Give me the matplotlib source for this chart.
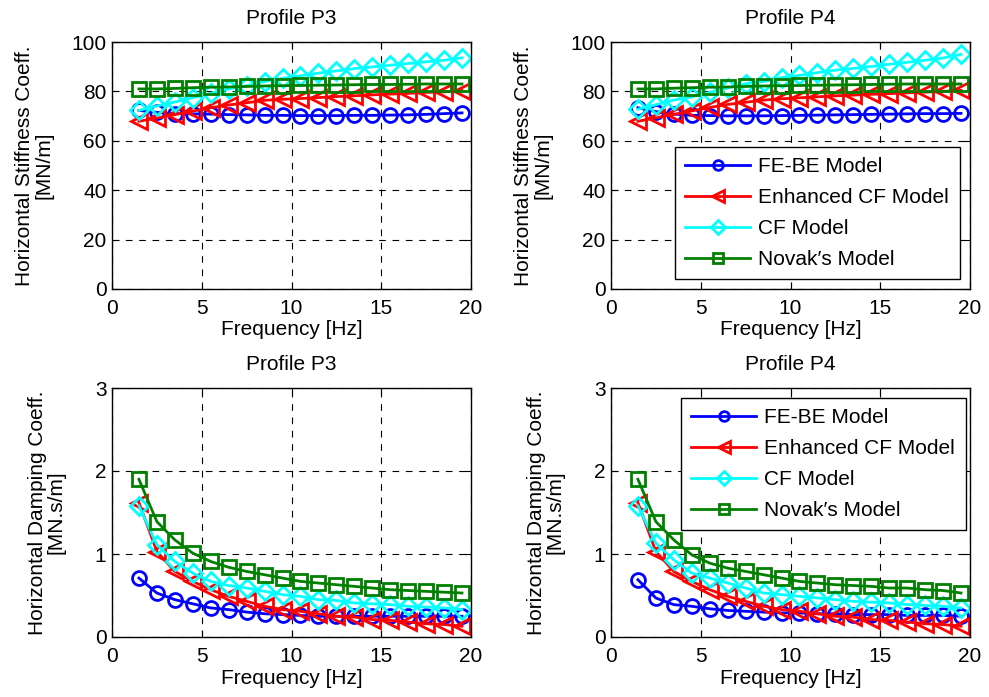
import matplotlib
matplotlib.use('Agg')
import matplotlib.pyplot as plt

plt.rcParams['font.family'] = ['Liberation Sans', 'DejaVu Sans']

# Frequency values [Hz]
freq = [1.5, 2.5, 3.5, 4.5, 5.5, 6.5, 7.5, 8.5, 9.5, 10.5,
        11.5, 12.5, 13.5, 14.5, 15.5, 16.5, 17.5, 18.5, 19.5]

# Stiffness, profile P3 [MN/m]
k_febe_p3 = [72.3, 71.5, 71.0, 70.9, 70.8, 70.6, 70.5, 70.3, 70.3, 70.2,
             70.2, 70.2, 70.3, 70.3, 70.4, 70.5, 70.7, 71.0, 71.3]
k_ecf_p3 = [67.9, 69.2, 70.6, 72.0, 73.4, 74.5, 75.4, 76.4, 76.8, 77.1,
            77.5, 77.9, 78.2, 78.6, 78.9, 79.2, 79.6, 79.8, 80.3]
k_cf_p3 = [72.3, 74.1, 75.7, 77.5, 79.2, 81.0, 82.3, 84.0, 85.3, 86.3,
           87.4, 88.3, 89.2, 89.9, 90.6, 91.3, 92.0, 92.6, 93.6]
k_nov_p3 = [81.0, 81.0, 81.2, 81.5, 81.7, 81.8, 82.0, 82.2, 82.3, 82.4,
            82.5, 82.6, 82.7, 82.8, 82.8, 82.9, 83.0, 83.0, 83.0]

# Stiffness, profile P4 [MN/m]
k_febe_p4 = [73.4, 71.8, 70.8, 70.3, 70.2, 70.1, 70.1, 70.1, 70.2, 70.3,
             70.4, 70.5, 70.6, 70.7, 70.8, 70.9, 71.0, 71.0, 71.1]
k_ecf_p4 = [67.9, 69.3, 70.7, 72.1, 73.5, 74.7, 75.6, 76.5, 77.0, 77.4,
            77.8, 78.2, 78.5, 78.8, 79.1, 79.4, 79.7, 80.0, 80.4]
k_cf_p4 = [72.8, 74.6, 76.5, 77.8, 79.6, 81.4, 83.1, 84.0, 85.6, 86.5,
           87.6, 88.6, 89.3, 90.1, 91.0, 91.8, 92.6, 93.5, 95.0]
k_nov_p4 = [81.0, 81.0, 81.3, 81.5, 81.7, 81.8, 82.0, 82.2, 82.3, 82.4,
            82.5, 82.6, 82.7, 82.8, 82.9, 83.0, 83.0, 83.0, 83.0]

# Damping, profile P3 [MN.s/m]
c_febe_p3 = [0.71, 0.53, 0.45, 0.40, 0.35, 0.33, 0.30, 0.28, 0.27, 0.26,
             0.25, 0.25, 0.25, 0.25, 0.25, 0.25, 0.25, 0.25, 0.25]
c_ecf_p3 = [1.62, 1.03, 0.79, 0.67, 0.57, 0.49, 0.43, 0.37, 0.33, 0.31,
            0.28, 0.25, 0.24, 0.21, 0.20, 0.18, 0.16, 0.15, 0.13]
c_cf_p3 = [1.58, 1.11, 0.91, 0.77, 0.67, 0.62, 0.59, 0.55, 0.51, 0.49,
           0.45, 0.44, 0.41, 0.40, 0.39, 0.37, 0.36, 0.35, 0.33]
c_nov_p3 = [1.90, 1.39, 1.17, 1.01, 0.91, 0.84, 0.79, 0.75, 0.71, 0.67,
            0.65, 0.63, 0.61, 0.59, 0.57, 0.56, 0.55, 0.54, 0.53]

# Damping, profile P4 [MN.s/m]
c_febe_p4 = [0.69, 0.47, 0.39, 0.37, 0.34, 0.32, 0.31, 0.30, 0.29, 0.29,
             0.28, 0.28, 0.27, 0.27, 0.27, 0.26, 0.26, 0.26, 0.25]
c_ecf_p4 = [1.62, 1.03, 0.79, 0.67, 0.57, 0.49, 0.43, 0.37, 0.33, 0.31,
            0.28, 0.25, 0.24, 0.21, 0.20, 0.18, 0.16, 0.15, 0.13]
c_cf_p4 = [1.58, 1.13, 0.93, 0.77, 0.71, 0.65, 0.59, 0.53, 0.51, 0.49,
           0.47, 0.45, 0.43, 0.42, 0.41, 0.39, 0.38, 0.37, 0.35]
c_nov_p4 = [1.90, 1.39, 1.17, 0.99, 0.89, 0.83, 0.79, 0.75, 0.71, 0.67,
            0.65, 0.63, 0.62, 0.61, 0.59, 0.59, 0.57, 0.56, 0.53]

labels = ['FE-BE Model', 'Enhanced CF Model', 'CF Model', 'Novak\u2032s Model']
colors = ['#0000ff', '#ff0000', '#00ffff', '#008000']
markers = ['o', '<', 'D', 's']
msizes = [10, 12, 9.5, 10.5]

fig = plt.figure(figsize=(9.89, 6.97), dpi=100)
fs = 15

pos = {
    'tl': [112 / 989, 1 - 289 / 697, 359 / 989, 247 / 697],
    'tr': [611 / 989, 1 - 289 / 697, 359 / 989, 247 / 697],
    'bl': [112 / 989, 1 - 637 / 697, 359 / 989, 249 / 697],
    'br': [611 / 989, 1 - 637 / 697, 359 / 989, 249 / 697],
}

panels = [
    ('tl', 'Profile P3', [k_febe_p3, k_ecf_p3, k_cf_p3, k_nov_p3], 'stiff'),
    ('tr', 'Profile P4', [k_febe_p4, k_ecf_p4, k_cf_p4, k_nov_p4], 'stiff'),
    ('bl', 'Profile P3', [c_febe_p3, c_ecf_p3, c_cf_p3, c_nov_p3], 'damp'),
    ('br', 'Profile P4', [c_febe_p4, c_ecf_p4, c_cf_p4, c_nov_p4], 'damp'),
]

for key, title, series, kind in panels:
    ax = fig.add_axes(pos[key])
    for y, lab, col, mk, ms in zip(series, labels, colors, markers, msizes):
        ax.plot(freq, y, color=col, marker=mk, markersize=ms,
                markerfacecolor='none', markeredgecolor=col,
                markeredgewidth=2, linewidth=2, label=lab)
    ax.set_xlim(0, 20)
    ax.set_xticks([0, 5, 10, 15, 20])
    if kind == 'stiff':
        ax.set_ylim(0, 100)
        ax.set_yticks([0, 20, 40, 60, 80, 100])
        ax.set_ylabel('Horizontal Stiffness Coeff.\n[MN/m]', fontsize=fs,
                      linespacing=1.0, labelpad=13)
    else:
        ax.set_ylim(0, 3)
        ax.set_yticks([0, 1, 2, 3])
        ax.set_ylabel('Horizontal Damping Coeff.\n[MN.s/m]', fontsize=fs,
                      linespacing=1.0, labelpad=21)
    ax.set_xlabel('Frequency [Hz]', fontsize=fs, labelpad=2)
    ax.set_title(title, fontsize=fs, pad=13)
    ax.grid(True, color='black', linestyle=(0, (6, 6)), linewidth=0.8)
    ax.tick_params(direction='in', top=True, right=True, labelsize=fs,
                   length=5, width=0.8)
    ax.tick_params(axis='x', pad=7)
    ax.tick_params(axis='y', pad=4)
    for s in ax.spines.values():
        s.set_linewidth(1.0)

    if key in ('tr', 'br'):
        anchor = (675 / 989, 1 - 147 / 697) if key == 'tr' else (681 / 989, 1 - 398 / 697)
        leg = ax.legend(loc='upper left', bbox_to_anchor=anchor,
                        bbox_transform=fig.transFigure, fontsize=fs,
                        markerscale=0.7, handlelength=3.1, fancybox=False,
                        framealpha=1, edgecolor='black', borderpad=0.5,
                        labelspacing=0.57, handletextpad=0.4,
                        borderaxespad=0)
        leg.get_frame().set_linewidth(1.0)

fig.savefig('out.png', dpi=100)
